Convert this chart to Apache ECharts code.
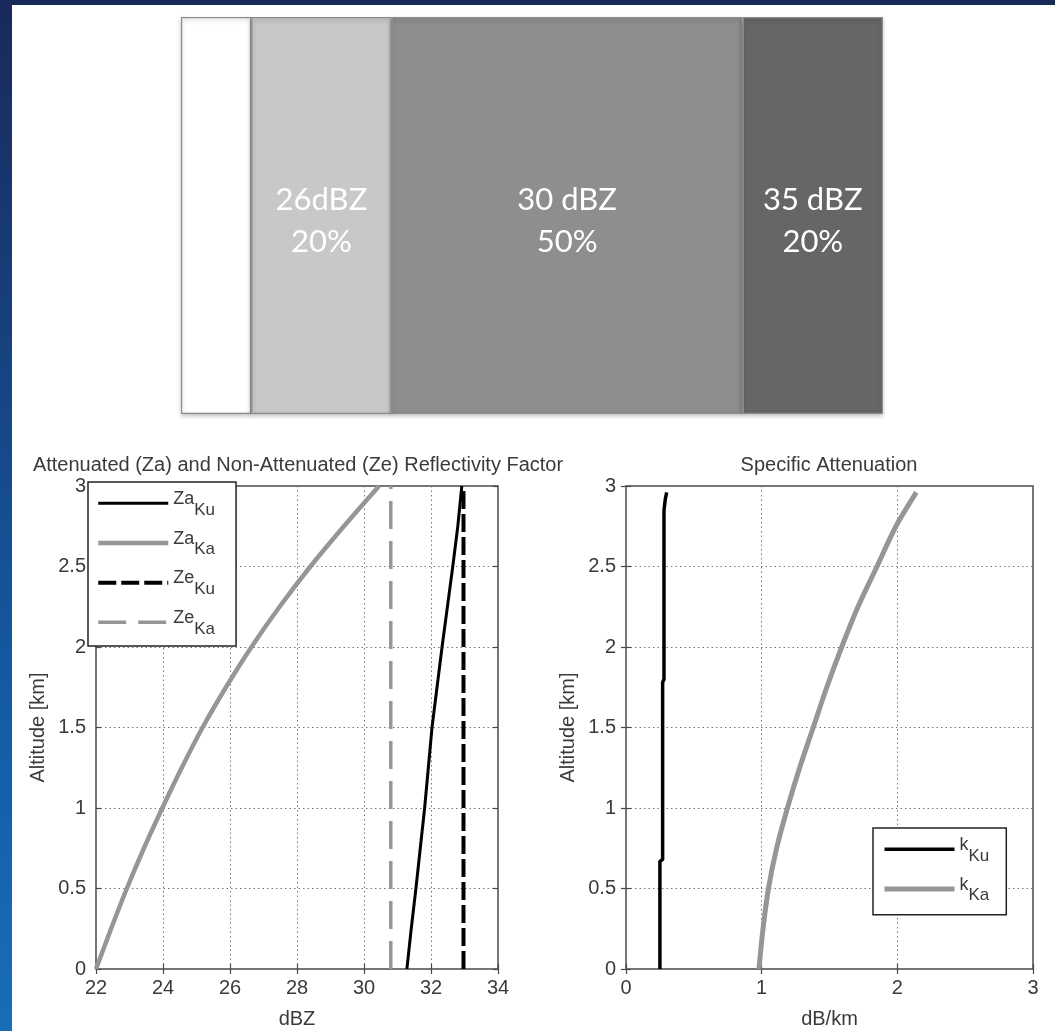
<!DOCTYPE html>
<html>
<head>
<meta charset="utf-8">
<script src="https://cdn.jsdelivr.net/npm/echarts@6/dist/echarts.min.js"></script>
<style>
  html, body { margin: 0; padding: 0; background: #ffffff; }
  #chart { width: 1055px; height: 1031px; }
</style>
</head>
<body>
<div id="chart"></div>
<script>
// Rain-cell composition across the footprint: share (%) and reflectivity of each block
const blockShare = [10, 20, 50, 20];
const blockName = ['', '26dBZ', '30 dBZ', '35 dBZ'];

// Reflectivity profiles (dBZ) against altitude (km)
const altitude = [0, 0.25, 0.5, 0.75, 1, 1.25, 1.5, 1.75, 2, 2.25, 2.5, 2.75, 3];
const zaKu = [31.28, 31.41, 31.55, 31.68, 31.81, 31.92, 32.03, 32.18, 32.33, 32.49, 32.65, 32.8, 32.92];
const zaKa = [22.0, 22.45, 22.92, 23.43, 23.98, 24.56, 25.18, 25.88, 26.64, 27.48, 28.4, 29.4, 30.45];
const zeAltitude = [0, 3];
const zeKu = [32.97, 32.97];
const zeKa = [30.8, 30.8];

// Specific attenuation (dB/km) against altitude (km)
const kKuAltitude = [0, 0.67, 0.68, 1.78, 1.8, 2.85, 2.92, 2.96];
const kKu = [0.25, 0.25, 0.27, 0.27, 0.28, 0.28, 0.29, 0.3];
const kKaAltitude = [0, 0.25, 0.5, 0.75, 1, 1.25, 1.5, 1.75, 2, 2.25, 2.5, 2.75, 2.96];
const kKa = [0.98, 1.01, 1.05, 1.11, 1.19, 1.28, 1.38, 1.48, 1.59, 1.71, 1.85, 1.99, 2.14];

// Axis ranges and titles
const dbzRange = [22, 34, 2];
const attRange = [0, 3, 1];
const altRange = [0, 3, 0.5];
const leftTitle = 'Attenuated (Za) and Non-Attenuated (Ze) Reflectivity Factor';
const rightTitle = 'Specific Attenuation';

const blockColor = ['#ffffff', '#c8c8c8', '#8e8e8e', '#666666'];
const sans = '"Liberation Sans", Arial, Helvetica, sans-serif';
const frameColor = '#4a4a4a';
const textColor = '#3a3a3a';
const axisFont = 20;

const pair = (xs, ys) => xs.map((x, i) => [x, ys[i]]);

const tickStyle = { show: true, inside: true, length: 5, lineStyle: { color: frameColor, width: 1.2 } };
const gridLineStyle = { show: true, lineStyle: { color: '#777777', width: 1, type: [1.5, 3] } };

function bottomAxis(grid, range, name) {
  return {
    type: 'value', gridIndex: grid, position: 'bottom',
    min: range[0], max: range[1], interval: range[2],
    name: name, nameLocation: 'middle', nameGap: 40,
    nameTextStyle: { color: textColor, fontSize: axisFont, fontFamily: sans },
    axisLine: { show: false },
    axisTick: tickStyle,
    axisLabel: { color: textColor, fontSize: axisFont, fontFamily: sans, margin: 9 },
    splitLine: gridLineStyle
  };
}
function leftAxis(grid, range, name) {
  return {
    type: 'value', gridIndex: grid, position: 'left',
    min: range[0], max: range[1], interval: range[2],
    name: name, nameLocation: 'middle', nameGap: 48,
    nameTextStyle: { color: textColor, fontSize: axisFont, fontFamily: sans },
    axisLine: { show: false },
    axisTick: tickStyle,
    axisLabel: { color: textColor, fontSize: axisFont, fontFamily: sans, margin: 10 },
    splitLine: gridLineStyle
  };
}
// Mirrored tick marks on the opposite sides of each box
function mirrorAxis(grid, range, position) {
  return {
    type: 'value', gridIndex: grid, position: position,
    min: range[0], max: range[1], interval: range[2],
    axisLine: { show: false },
    axisTick: tickStyle,
    axisLabel: { show: false },
    splitLine: { show: false }
  };
}

// Legend entries are written as symbol + subscripted band, e.g. Za with Ku below
function legendLabel(name) {
  const parts = name.split('_');
  return '{m|' + parts[0] + '}{s|' + parts[1] + '}';
}
const legendRich = {
  m: { fontSize: 18, fontFamily: sans, color: textColor, lineHeight: 19, padding: [1.5, 0, 10, 0] },
  s: { fontSize: 17, fontFamily: sans, color: textColor, lineHeight: 17, padding: [13.5, 0, 0, 0] }
};
function profileLegend(names, left, top, padding) {
  return {
    show: true, orient: 'vertical', left: left, top: top,
    data: names, selectedMode: false,
    itemWidth: 70, itemHeight: 14, itemGap: 9.2,
    padding: padding,
    backgroundColor: '#ffffff', borderColor: '#222222', borderWidth: 1.5, borderRadius: 0,
    lineStyle: { width: 'inherit', type: 'inherit' },
    itemStyle: { color: 'rgba(0,0,0,0)', borderColor: 'rgba(0,0,0,0)', borderWidth: 0 },
    formatter: legendLabel,
    textStyle: { rich: legendRich }
  };
}

function lineSeries(name, axis, data, color, width, dash, smooth) {
  return {
    type: 'line', name: name, xAxisIndex: axis, yAxisIndex: axis,
    data: data, symbol: 'none', showSymbol: false, silent: true, animation: false,
    smooth: smooth || false,
    lineStyle: { color: color, width: width, type: dash || 'solid', cap: 'butt' },
    itemStyle: { color: color },
    z: 3
  };
}

const barSeries = blockShare.map((v, i) => ({
  type: 'bar', name: blockName[i], stack: 'profile',
  xAxisIndex: 0, yAxisIndex: 0, barWidth: '100%', silent: true, animation: false,
  data: [v],
  itemStyle: {
    color: blockColor[i], borderColor: '#8c8c8c', borderWidth: 1.2,
    shadowColor: 'rgba(0,0,0,0.25)', shadowBlur: 4, shadowOffsetY: 2
  },
  label: {
    show: i > 0, position: 'inside',
    formatter: p => p.seriesName + '\n' + p.value + '%',
    color: '#ffffff', fontFamily: 'Lato, "Open Sans", sans-serif', fontSize: 31, lineHeight: 42,
    offset: [0, 5]
  }
}));

const chart = echarts.init(document.getElementById('chart'), null, { renderer: 'canvas' });
chart.setOption({
  backgroundColor: '#ffffff',
  animation: false,
  textStyle: { fontFamily: sans },
  grid: [
    { left: 181, top: 17, width: 702, height: 397, show: false },
    { left: 96, top: 486, width: 402, height: 483, show: true, backgroundColor: '#ffffff', borderColor: frameColor, borderWidth: 1.5 },
    { left: 626, top: 486, width: 407, height: 483, show: true, backgroundColor: '#ffffff', borderColor: frameColor, borderWidth: 1.5 }
  ],
  xAxis: [
    { type: 'value', gridIndex: 0, min: 0, max: 100, show: false },
    bottomAxis(1, dbzRange, 'dBZ'),
    mirrorAxis(1, dbzRange, 'top'),
    bottomAxis(2, attRange, 'dB/km'),
    mirrorAxis(2, attRange, 'top')
  ],
  yAxis: [
    { type: 'category', gridIndex: 0, data: [''], show: false, boundaryGap: true },
    leftAxis(1, altRange, 'Altitude [km]'),
    mirrorAxis(1, altRange, 'right'),
    leftAxis(2, altRange, 'Altitude [km]'),
    mirrorAxis(2, altRange, 'right')
  ],
  legend: [
    profileLegend(['Za_Ku', 'Za_Ka', 'Ze_Ku', 'Ze_Ka'], 88, 482, [6, 21, 8.5, 8]),
    profileLegend(['k_Ku', 'k_Ka'], 873, 828, [6, 17, 10.5, 9])
  ],
  graphic: [
    { type: 'rect', z: 100, shape: { x: 0, y: 0, width: 1055, height: 5 }, style: { fill: '#172a57' }, silent: true },
    {
      type: 'rect', z: 100, shape: { x: 0, y: 0, width: 12, height: 1031 }, silent: true,
      style: {
        fill: new echarts.graphic.LinearGradient(0, 0, 0, 1, [
          { offset: 0, color: '#19295a' },
          { offset: 0.45, color: '#164a8c' },
          { offset: 0.75, color: '#1460aa' },
          { offset: 1, color: '#1a6cb6' }
        ])
      }
    },
    {
      type: 'text', x: 298, y: 465, silent: true,
      style: { text: leftTitle, fill: textColor, font: axisFont + 'px ' + sans, align: 'center', verticalAlign: 'middle', textAlign: 'center', textVerticalAlign: 'middle' }
    },
    {
      type: 'text', x: 829, y: 465, silent: true,
      style: { text: rightTitle, fill: textColor, font: axisFont + 'px ' + sans, align: 'center', verticalAlign: 'middle', textAlign: 'center', textVerticalAlign: 'middle' }
    }
  ],
  series: [
    ...barSeries,
    lineSeries('Za_Ku', 1, pair(zaKu, altitude), '#000000', 3),
    lineSeries('Za_Ka', 1, pair(zaKa, altitude), '#969696', 4.5, null, 0.3),
    lineSeries('Ze_Ku', 1, pair(zeKu, zeAltitude), '#000000', 4, [18, 5]),
    lineSeries('Ze_Ka', 1, pair(zeKa, zeAltitude), '#969696', 3.5, [28, 12]),
    lineSeries('k_Ku', 3, pair(kKu, kKuAltitude), '#000000', 3.5),
    lineSeries('k_Ka', 3, pair(kKa, kKaAltitude), '#969696', 5, null, 0.3)
  ]
});
</script>
</body>
</html>
